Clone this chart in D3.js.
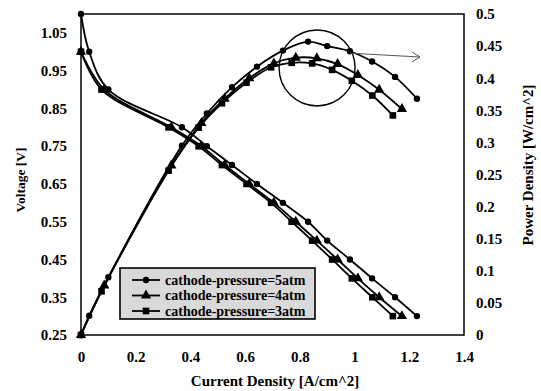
<!DOCTYPE html>
<html>
<head>
<meta charset="utf-8">
<script src="https://cdn.jsdelivr.net/npm/d3@7"></script>
<style>
  html, body { margin: 0; padding: 0; background: #fff; }
  svg { display: block; }
  text { font-family: "Liberation Serif", "Times New Roman", serif; font-weight: bold; fill: #000; }
</style>
</head>
<body>
<svg id="chart" width="541" height="391"></svg>
<script>
// Polarization (voltage) and power density curves at three cathode pressures
const seriesNames = ["cathode-pressure=5atm", "cathode-pressure=4atm", "cathode-pressure=3atm"];
const markerKinds = ["circle", "triangle", "square"];

// Current density [A/cm^2]
const current5 = [0, 0.03, 0.1, 0.369, 0.46, 0.552, 0.643, 0.738, 0.83, 0.90, 0.983, 1.064, 1.148, 1.228];
const current4 = [0, 0.085, 0.33, 0.44, 0.525, 0.615, 0.705, 0.785, 0.862, 0.938, 1.012, 1.09, 1.173];
const current3 = [0, 0.075, 0.32, 0.43, 0.515, 0.605, 0.695, 0.77, 0.845, 0.918, 0.99, 1.065, 1.14];

// Cell voltage [V]
const voltage5 = [1.1, 1.0, 0.9, 0.8, 0.75, 0.7, 0.65, 0.6, 0.55, 0.5, 0.45, 0.4, 0.35, 0.3];
const voltage4 = [1.0, 0.9, 0.8, 0.75, 0.7, 0.65, 0.6, 0.55, 0.5, 0.45, 0.4, 0.35, 0.3];
const voltage3 = [1.0, 0.9, 0.8, 0.75, 0.7, 0.65, 0.6, 0.55, 0.5, 0.45, 0.4, 0.35, 0.3];

// Power density [W/cm^2]
const power5 = [0, 0.03, 0.09, 0.295, 0.345, 0.386, 0.418, 0.443, 0.457, 0.45, 0.442, 0.426, 0.402, 0.368];
const power4 = [0, 0.077, 0.264, 0.33, 0.368, 0.40, 0.423, 0.432, 0.431, 0.422, 0.405, 0.382, 0.352];
const power3 = [0, 0.068, 0.256, 0.323, 0.361, 0.393, 0.417, 0.424, 0.423, 0.413, 0.396, 0.373, 0.342];

// Tick labels
const xTicks = [0, 0.2, 0.4, 0.6, 0.8, 1, 1.2, 1.4];
const voltTicks = [0.25, 0.35, 0.45, 0.55, 0.65, 0.75, 0.85, 0.95, 1.05];
const powerTicks = [0, 0.05, 0.1, 0.15, 0.2, 0.25, 0.3, 0.35, 0.4, 0.45, 0.5];

const svg = d3.select("#chart");
const plot = { left: 81, right: 464, top: 14, bottom: 335 };

const x = d3.scaleLinear().domain([0, 1.4]).range([plot.left, plot.right]);
const yV = d3.scaleLinear().domain([0.25, 1.1]).range([plot.bottom, plot.top]);
const yP = d3.scaleLinear().domain([0, 0.5]).range([plot.bottom, plot.top]);

const fmt = d => String(+d.toFixed(2));

// Axes (labels only, no tick marks)
const axisFont = "15px";
const gx = svg.append("g").attr("transform", `translate(0,${plot.bottom})`)
  .call(d3.axisBottom(x).tickValues(xTicks).tickFormat(fmt).tickSize(0).tickPadding(16));
const gyl = svg.append("g").attr("transform", `translate(${plot.left},0)`)
  .call(d3.axisLeft(yV).tickValues(voltTicks).tickFormat(d => d.toFixed(2)).tickSize(0).tickPadding(14));
const gyr = svg.append("g").attr("transform", `translate(${plot.right},0)`)
  .call(d3.axisRight(yP).tickValues(powerTicks).tickFormat(fmt).tickSize(0).tickPadding(12));
[gx, gyl, gyr].forEach(g => {
  g.select(".domain").remove();
  g.selectAll("text").style("font-size", axisFont).attr("font-family", null);
});

// Plot frame
svg.append("rect")
  .attr("x", plot.left).attr("y", plot.top)
  .attr("width", plot.right - plot.left).attr("height", plot.bottom - plot.top)
  .attr("fill", "none").attr("stroke", "#111").attr("stroke-width", 1.6);

// Axis titles
svg.append("text").attr("x", 275).attr("y", 386)
  .attr("text-anchor", "middle").style("font-size", "15px").text("Current Density [A/cm^2]");
svg.append("text").attr("transform", "translate(25,180) rotate(-90)")
  .attr("text-anchor", "middle").style("font-size", "13.5px").text("Voltage [V]");
svg.append("text").attr("transform", "translate(533,165) rotate(-90)")
  .attr("text-anchor", "middle").style("font-size", "15px").text("Power Density [W/cm^2]");

// Series
const series = [
  { name: seriesNames[0], marker: markerKinds[0], i: current5, v: voltage5, p: power5 },
  { name: seriesNames[1], marker: markerKinds[1], i: current4, v: voltage4, p: power4 },
  { name: seriesNames[2], marker: markerKinds[2], i: current3, v: voltage3, p: power3 }
];

const symbolOf = {
  circle: d3.symbol().type(d3.symbolCircle).size(32),
  triangle: d3.symbol().type(d3.symbolTriangle).size(46),
  square: d3.symbol().type(d3.symbolSquare).size(44)
};

const curve = d3.curveCatmullRom.alpha(0.5);

series.forEach(s => {
  const vPts = s.i.map((c, k) => [x(c), yV(s.v[k])]);
  const pPts = s.i.map((c, k) => [x(c), yP(s.p[k])]);
  [vPts, pPts].forEach(pts => {
    svg.append("path").attr("d", d3.line().curve(curve)(pts))
      .attr("fill", "none").attr("stroke", "#000").attr("stroke-width", 1.8);
    svg.append("g").selectAll("path").data(pts).join("path")
      .attr("transform", d => `translate(${d[0]},${d[1]})`)
      .attr("d", symbolOf[s.marker]()).attr("fill", "#000");
  });
});

// Highlight of the peak power region and the pointer arrow
const ring = { i: 0.863, p: 0.416, r: 38 };
svg.append("circle").attr("cx", x(ring.i)).attr("cy", yP(ring.p)).attr("r", ring.r)
  .attr("fill", "none").attr("stroke", "#000").attr("stroke-width", 1.4);
const arrowFrom = [x(0.983), yP(0.439)];
const arrowTo = [x(1.239), yP(0.433)];
svg.append("line").attr("x1", arrowFrom[0]).attr("y1", arrowFrom[1])
  .attr("x2", arrowTo[0]).attr("y2", arrowTo[1]).attr("stroke", "#555").attr("stroke-width", 1);
svg.append("path")
  .attr("d", `M${arrowTo[0] - 8},${arrowTo[1] - 5}L${arrowTo[0]},${arrowTo[1]}L${arrowTo[0] - 8},${arrowTo[1] + 5}`)
  .attr("fill", "none").attr("stroke", "#555").attr("stroke-width", 1);

// Legend
const lg = svg.append("g").attr("transform", "translate(120,268)");
lg.append("rect").attr("width", 195).attr("height", 51)
  .attr("fill", "#d9d9d9").attr("stroke", "#000").attr("stroke-width", 1.6);
series.forEach((s, k) => {
  const cy = 12 + k * 15.5;
  lg.append("line").attr("x1", 12).attr("x2", 40).attr("y1", cy).attr("y2", cy)
    .attr("stroke", "#000").attr("stroke-width", 1.8);
  lg.append("path").attr("transform", `translate(26,${cy})`).attr("d", symbolOf[s.marker]()).attr("fill", "#000");
  lg.append("text").attr("x", 45).attr("y", cy + 4.5).style("font-size", "14px").text(s.name);
});
</script>
</body>
</html>
